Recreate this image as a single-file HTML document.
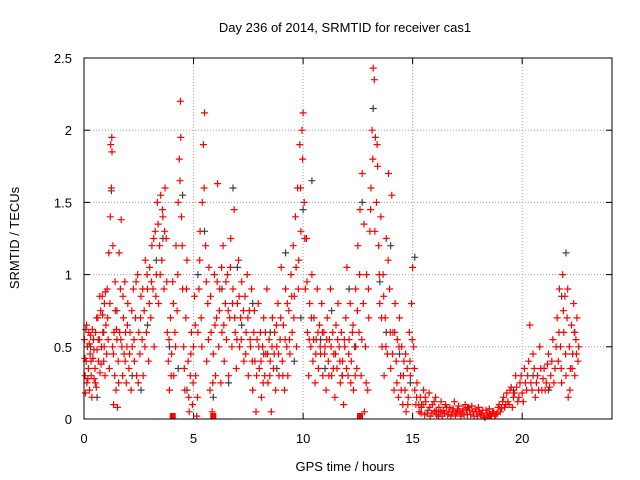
<!DOCTYPE html>
<html><head><meta charset="utf-8"><style>
body{margin:0;background:#fff;}
svg{display:block;font-family:"Liberation Sans","DejaVu Sans",sans-serif;}
</style></head><body>
<svg id="chart" width="640" height="480">
<text x="345" y="32" text-anchor="middle" font-size="13">Day 236 of 2014, SRMTID for receiver cas1</text>
<text x="345" y="471" text-anchor="middle" font-size="13">GPS time / hours</text>
<text transform="translate(19,238) rotate(-90)" text-anchor="middle" font-size="13">SRMTID / TECUs</text>
<g id="grid"></g>
<g id="ticks"></g>
<g id="gray"></g>
<g id="red"></g>
<rect x="84" y="58" width="528" height="361" fill="none" stroke="#000" stroke-width="1"/>
</svg>
<script>
const xTicks=[0,5,10,15,20];
const yTicks=[0,0.5,1,1.5,2,2.5];
const yTickLabels=["0","0.5","1","1.5","2","2.5"];
const redPts=[[0.02,0.55],[0.05,0.3],[0.08,0.62],[0.1,0.4],[0.13,0.25],[0.16,0.5],[0.2,0.35],[0.22,0.6],[0.25,0.2],[0.28,0.45],[0.3,0.58],[0.33,0.3],[0.36,0.15],[0.4,0.42],[0.43,0.55],[0.46,0.28],[0.5,0.35],[0.53,0.6],[0.56,0.22],[0.6,0.48],[0.63,0.7],[0.66,0.4],[0.7,0.55],[0.73,0.32],[0.76,0.75],[0.8,0.5],[0.83,0.85],[0.86,0.6],[0.9,0.4],[0.93,0.8],[0.96,0.3],[1.0,0.65],[1.03,0.45],[1.06,0.9],[1.1,0.55],[1.13,1.15],[1.16,0.35],[1.2,1.4],[1.22,1.9],[1.25,1.6],[1.27,1.95],[1.3,0.5],[1.32,1.2],[1.35,0.1],[1.37,0.6],[1.4,0.3],[1.43,0.75],[1.46,0.2],[1.5,0.55],[1.53,0.08],[1.56,0.4],[1.6,1.15],[1.63,0.6],[1.66,0.9],[1.7,1.38],[1.73,0.5],[1.76,0.3],[1.8,0.7],[1.83,0.45],[1.86,0.95],[1.9,0.6],[1.93,0.25],[1.96,0.5],[2.0,0.8],[2.05,0.35],[2.1,0.6],[2.15,0.2],[2.2,0.5],[2.25,0.9],[2.3,0.4],[2.35,0.7],[2.4,0.3],[2.45,1.0],[2.5,0.6],[2.55,0.45],[2.6,0.85],[2.65,0.55],[2.7,0.3],[2.75,0.75],[2.8,1.1],[2.85,0.6],[2.9,0.9],[2.95,0.4],[3.0,1.05],[3.05,0.7],[3.1,1.2],[3.15,0.9],[3.2,0.5],[3.25,1.3],[3.3,1.0],[3.35,1.5],[3.4,0.8],[3.45,1.2],[3.5,1.55],[3.55,1.1],[3.6,1.4],[3.65,0.9],[3.7,1.6],[3.75,1.25],[3.8,0.6],[3.85,0.4],[3.9,0.2],[3.95,0.7],[4.0,0.45],[4.05,0.95],[4.1,0.3],[4.15,0.6],[4.2,1.2],[4.25,0.75],[4.3,1.5],[4.35,1.8],[4.4,2.2],[4.42,1.95],[4.45,1.4],[4.5,0.9],[4.55,0.5],[4.6,0.2],[4.65,0.7],[4.7,1.1],[4.75,0.4],[4.8,0.05],[4.85,0.3],[4.9,0.6],[4.95,0.1],[5.0,0.5],[5.05,0.85],[5.1,0.3],[5.15,0.02],[5.2,0.6],[5.25,0.9],[5.3,1.3],[5.35,0.7],[5.4,1.5],[5.45,1.9],[5.5,2.12],[5.55,1.2],[5.6,0.4],[5.65,0.8],[5.7,1.05],[5.75,0.2],[5.8,0.6],[5.85,0.05],[5.9,0.45],[5.95,1.0],[6.0,0.3],[6.05,0.7],[6.1,1.63],[6.15,0.5],[6.2,0.9],[6.25,0.25],[6.3,0.6],[6.35,1.2],[6.4,0.4],[6.45,0.8],[6.5,0.55],[6.55,1.0],[6.6,0.3],[6.65,0.7],[6.7,1.25],[6.75,0.5],[6.8,0.9],[6.85,1.45],[6.9,0.6],[6.95,0.35],[7.0,0.8],[7.05,1.1],[7.1,0.5],[7.15,0.7],[7.2,0.95],[7.3,0.4],[7.35,0.85],[7.4,0.6],[7.45,1.0],[7.5,0.3],[7.55,0.75],[7.6,0.5],[7.65,0.9],[7.7,0.2],[7.75,0.6],[7.8,0.4],[7.85,0.05],[7.9,0.55],[7.95,0.8],[8.0,0.35],[8.05,0.6],[8.1,0.15],[8.15,0.5],[8.2,0.7],[8.25,0.3],[8.3,0.45],[8.35,0.9],[8.4,0.25],[8.45,0.55],[8.5,0.4],[8.55,0.05],[8.6,0.7],[8.65,0.35],[8.7,0.6],[8.75,0.2],[8.8,0.5],[8.85,0.8],[8.9,0.3],[8.95,0.55],[9.0,1.05],[9.05,0.4],[9.1,0.65],[9.15,0.2],[9.2,0.9],[9.25,0.5],[9.3,0.3],[9.35,0.75],[9.4,0.45],[9.45,1.0],[9.5,0.6],[9.55,1.2],[9.6,0.85],[9.65,1.4],[9.7,0.5],[9.75,1.6],[9.8,1.1],[9.85,1.9],[9.9,1.3],[9.95,2.0],[10.0,2.12],[10.05,1.5],[10.1,0.9],[10.15,1.25],[10.2,0.6],[10.25,0.3],[10.3,0.8],[10.35,0.5],[10.4,1.0],[10.45,0.4],[10.5,0.7],[10.55,0.25],[10.6,0.55],[10.65,0.9],[10.7,0.35],[10.75,0.65],[10.8,0.45],[10.85,0.8],[10.9,0.3],[10.95,0.6],[11.0,0.5],[11.05,0.2],[11.1,0.7],[11.15,0.4],[11.2,0.55],[11.25,0.9],[11.3,0.3],[11.35,0.6],[11.4,0.45],[11.45,0.15],[11.5,0.65],[11.55,0.35],[11.6,0.8],[11.65,0.5],[11.7,0.25],[11.75,0.6],[11.8,0.4],[11.85,0.1],[11.9,0.5],[11.95,0.7],[12.0,1.05],[12.05,0.3],[12.1,0.55],[12.15,0.8],[12.2,0.4],[12.25,0.6],[12.3,0.2],[12.35,0.5],[12.4,0.9],[12.45,0.35],[12.5,1.2],[12.55,0.6],[12.6,1.45],[12.65,0.3],[12.7,1.7],[12.75,0.8],[12.8,0.05],[12.85,0.5],[12.9,1.0],[12.95,0.2],[13.0,0.7],[13.05,1.3],[13.1,1.6],[13.15,2.0],[13.2,2.43],[13.25,2.35],[13.3,1.95],[13.35,1.5],[13.4,1.75],[13.45,1.2],[13.5,0.8],[13.55,1.4],[13.6,0.5],[13.65,1.0],[13.7,0.3],[13.75,0.7],[13.8,1.25],[13.85,0.45],[13.9,1.7],[13.95,0.9],[14.0,0.35],[14.05,1.55],[14.1,0.6],[14.15,0.2],[14.2,0.8],[14.25,0.4],[14.3,0.55],[14.35,0.15],[14.4,0.7],[14.45,0.3],[14.5,0.5],[14.55,0.1],[14.6,0.4],[14.65,0.2],[14.7,0.05],[14.75,0.35],[14.8,0.15],[14.85,0.6],[14.9,0.3],[14.95,0.8],[15.0,1.05],[15.05,0.5],[15.1,0.2],[15.15,0.1],[15.2,0.25],[15.3,0.05],[15.35,0.15],[15.4,0.08],[15.5,0.2],[15.55,0.03],[15.6,0.12],[15.7,0.06],[15.75,0.18],[15.8,0.02],[15.9,0.1],[16.0,0.05],[16.05,0.15],[16.1,0.03],[16.2,0.08],[16.3,0.12],[16.35,0.02],[16.4,0.06],[16.5,0.1],[16.6,0.03],[16.7,0.08],[16.8,0.05],[16.9,0.12],[17.0,0.04],[17.1,0.09],[17.2,0.02],[17.3,0.07],[17.4,0.1],[17.5,0.03],[17.6,0.06],[17.7,0.09],[17.8,0.02],[17.9,0.05],[18.0,0.08],[18.1,0.03],[18.2,0.06],[18.3,0.01],[18.4,0.04],[18.5,0.07],[18.6,0.02],[18.7,0.05],[18.8,0.03],[18.9,0.08],[19.0,0.05],[19.1,0.12],[19.2,0.08],[19.3,0.18],[19.4,0.1],[19.5,0.22],[19.6,0.15],[19.7,0.3],[19.8,0.12],[19.9,0.25],[20.0,0.18],[20.1,0.35],[20.2,0.2],[20.3,0.4],[20.35,0.65],[20.4,0.25],[20.5,0.45],[20.6,0.15],[20.7,0.3],[20.8,0.5],[20.9,0.2],[21.0,0.35],[21.1,0.25],[21.2,0.45],[21.3,0.3],[21.4,0.55],[21.5,0.35],[21.6,0.7],[21.65,0.4],[21.7,0.9],[21.75,0.5],[21.8,0.25],[21.85,1.0],[21.9,0.6],[21.95,0.85],[22.0,0.3],[22.05,0.7],[22.1,0.15],[22.15,0.5],[22.2,0.35],[22.25,0.65],[22.3,0.45],[22.35,0.8],[22.4,0.3],[22.45,0.55],[22.5,0.7],[22.55,0.4]];
const redPts2=[[0.04,0.42],[0.07,0.18],[0.12,0.65],[0.18,0.28],[0.24,0.52],[0.32,0.4],[0.38,0.62],[0.45,0.48],[0.52,0.25],[0.58,0.7],[0.65,0.55],[0.72,0.85],[0.78,0.38],[0.85,0.72],[0.92,0.5],[0.98,0.88],[1.08,0.7],[1.18,0.8],[1.28,1.85],[1.34,0.45],[1.42,0.95],[1.48,0.62],[1.58,0.25],[1.68,0.55],[1.78,0.85],[1.88,0.4],[1.98,0.65],[2.08,0.45],[2.18,0.75],[2.28,0.55],[2.38,0.95],[2.48,0.25],[2.58,0.7],[2.68,0.9],[2.78,0.5],[2.88,1.0],[2.98,0.8],[3.08,0.95],[3.18,1.25],[3.28,0.85],[3.38,1.35],[3.48,1.0],[3.58,1.45],[3.68,1.3],[3.78,0.95],[3.88,0.55],[3.98,0.3],[4.08,0.8],[4.18,0.5],[4.28,1.0],[4.38,1.65],[4.48,1.2],[4.58,0.35],[4.68,0.9],[4.78,0.15],[4.88,0.45],[4.98,0.25],[5.08,0.65],[5.18,0.15],[5.28,1.1],[5.38,0.5],[5.48,1.6],[5.58,0.95],[5.68,0.55],[5.78,0.85],[5.88,0.25],[5.98,0.65],[6.08,0.95],[6.18,0.75],[6.28,1.05],[6.38,0.65],[6.48,0.95],[6.58,0.75],[6.68,1.05],[6.78,0.8],[6.88,0.7],[6.98,0.55],[7.08,0.85],[7.18,0.55],[7.28,0.75],[7.38,0.45],[7.48,0.7],[7.58,0.55],[7.68,0.4],[7.78,0.75],[7.88,0.3],[7.98,0.5],[8.08,0.4],[8.18,0.25],[8.28,0.6],[8.38,0.45],[8.48,0.3],[8.58,0.5],[8.68,0.45],[8.78,0.65],[8.88,0.45],[8.98,0.7],[9.08,0.3],[9.18,0.55],[9.28,0.8],[9.38,0.55],[9.48,0.85],[9.58,0.7],[9.68,1.05],[9.78,0.9],[9.88,1.6],[9.98,1.8],[10.08,1.25],[10.18,0.95],[10.28,0.55],[10.38,0.7],[10.48,0.55],[10.58,0.45],[10.68,0.6],[10.78,0.5],[10.88,0.6],[10.98,0.45],[11.08,0.55],[11.18,0.3],[11.28,0.5],[11.38,0.35],[11.48,0.45],[11.58,0.55],[11.68,0.4],[11.78,0.3],[11.88,0.55],[11.98,0.35],[12.08,0.45],[12.18,0.25],[12.28,0.65],[12.38,0.3],[12.48,0.75],[12.58,1.0],[12.68,0.55],[12.78,1.35],[12.88,0.25],[12.98,0.9],[13.08,1.45],[13.18,1.8],[13.28,1.3],[13.38,1.9],[13.48,1.0],[13.58,0.7],[13.68,0.85],[13.78,0.5],[13.88,1.1],[13.98,0.6],[14.08,0.45],[14.18,0.6],[14.28,0.25],[14.38,0.5],[14.48,0.2],[14.58,0.3],[14.68,0.45],[14.78,0.1],[14.88,0.4],[14.98,0.55],[15.08,0.35],[15.18,0.15],[15.28,0.1],[15.38,0.04],[15.48,0.1],[15.58,0.15],[15.68,0.04],[15.78,0.08],[15.88,0.04],[15.98,0.12],[16.08,0.06],[16.18,0.02],[16.28,0.05],[16.45,0.04],[16.55,0.08],[16.65,0.05],[16.75,0.02],[16.85,0.07],[16.95,0.03],[17.05,0.06],[17.15,0.05],[17.25,0.04],[17.35,0.03],[17.45,0.06],[17.55,0.08],[17.65,0.03],[17.75,0.05],[17.85,0.07],[17.95,0.02],[18.05,0.05],[18.15,0.04],[18.25,0.02],[18.35,0.06],[18.45,0.02],[18.55,0.03],[18.65,0.05],[18.75,0.02],[18.85,0.04],[18.95,0.1],[19.05,0.07],[19.15,0.15],[19.25,0.1],[19.35,0.12],[19.45,0.2],[19.55,0.08],[19.65,0.18],[19.75,0.22],[19.85,0.15],[19.95,0.3],[20.05,0.12],[20.15,0.25],[20.25,0.3],[20.45,0.2],[20.55,0.35],[20.65,0.25],[20.75,0.2],[20.85,0.35],[20.95,0.28],[21.05,0.2],[21.15,0.38],[21.25,0.22],[21.35,0.4],[21.45,0.25],[21.55,0.5],[21.68,0.6],[21.78,0.35],[21.88,0.75],[21.98,0.45],[22.08,0.9],[22.18,0.2],[22.28,0.35],[22.38,0.6],[22.48,0.45],[22.58,0.5]];
const grayPts=[[0.3,0.5],[0.9,0.6],[1.25,1.58],[1.5,0.75],[2.2,0.3],[2.9,0.65],[3.3,1.1],[3.6,1.25],[4.3,0.35],[4.5,1.55],[4.7,0.2],[5.2,1.0],[5.5,1.3],[5.9,0.15],[6.3,0.9],[6.8,1.6],[7.2,0.65],[7.7,0.8],[8.2,0.45],[8.8,0.35],[9.2,1.15],[9.6,0.4],[10.0,1.45],[10.4,1.65],[10.8,0.55],[11.3,0.75],[11.8,0.3],[12.4,0.5],[12.7,1.5],[13.2,2.15],[13.5,0.95],[14.0,1.2],[14.4,0.45],[14.9,0.25],[15.1,1.12],[15.4,0.1],[16.2,0.05],[17.5,0.08],[18.5,0.03],[19.6,0.2],[20.5,0.3],[21.2,0.2],[21.8,0.85],[22.0,1.15],[22.4,0.6],[0.6,0.15],[2.6,0.2],[3.9,0.5],[6.6,0.25],[8.5,0.6],[11.0,0.35],[13.8,0.6],[7.0,1.05],[9.9,0.7],[12.1,0.9]];
const zeroSquares=[4.05,5.9,12.6];

const NS="http://www.w3.org/2000/svg";
const X0=84,X1=612,Y0=419,Y1=58,XMAX=24.1,YMAX=2.5;
function xs(t){return X0+(X1-X0)*t/XMAX;}
function ys(v){return Y0-(Y0-Y1)*v/YMAX;}
function mk(tag,parent,attrs){const e=document.createElementNS(NS,tag);for(const k in attrs)e.setAttribute(k,attrs[k]);parent.appendChild(e);return e;}
const grid=document.getElementById('grid'),ticks=document.getElementById('ticks');
xTicks.forEach(t=>{
  const x=xs(t);
  if(t>0){const g=mk('line',grid,{x1:x,x2:x,y1:Y0,y2:Y1,stroke:'#a0a0a0','stroke-dasharray':'1,2'});
  
  }
  mk('line',ticks,{x1:x,x2:x,y1:Y0,y2:Y0-6,stroke:'#000'});
  mk('line',ticks,{x1:x,x2:x,y1:Y1,y2:Y1+6,stroke:'#000'});
  const l=mk('text',ticks,{x:x,y:443,'text-anchor':'middle','font-size':'13'});l.textContent=String(t);
  
  
});
yTicks.forEach((v,i)=>{
  const y=ys(v);
  if(v>0&&v<YMAX){const g=mk('line',grid,{x1:X0,x2:X1,y1:y,y2:y,stroke:'#a0a0a0','stroke-dasharray':'1,2'});
  
  }
  mk('line',ticks,{x1:X0,x2:X0+6,y1:y,y2:y,stroke:'#000'});
  mk('line',ticks,{x1:X1,x2:X1-6,y1:y,y2:y,stroke:'#000'});
  const l=mk('text',ticks,{x:72,y:y+5,'text-anchor':'end','font-size':'13'});l.textContent=yTickLabels[i];
  
  
});
function plus(g,pts,color,name){
  let d='';
  pts.forEach(p=>{const x=xs(p[0]).toFixed(1),y=ys(p[1]).toFixed(1);d+=`M${x-3.5} ${y}h7M${x} ${y-3.5}v7`;});
  const e=mk('path',g,{d:d,stroke:color,'stroke-width':'1.2',fill:'none'});
  
  
}
plus(document.getElementById('gray'),grayPts,'#404040','gray-points');
plus(document.getElementById('red'),redPts,'#ff0000','red-points');
plus(document.getElementById('red'),redPts2,'#ff0000','red-points-extra');
zeroSquares.forEach(t=>{
  const s=mk('rect',document.getElementById('red'),{x:xs(t)-3,y:Y0-6,width:6,height:6,fill:'#ff0000'});
  
  
});
</script>
</body></html>
